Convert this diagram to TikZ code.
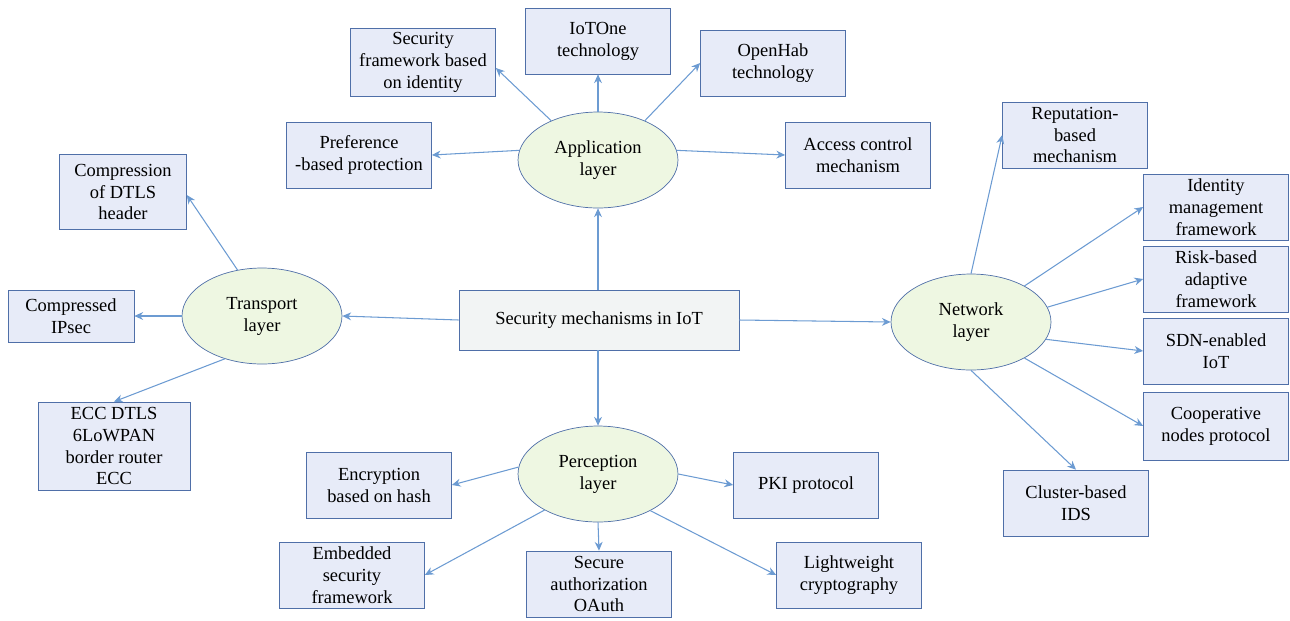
\documentclass[tikz,border=0pt]{standalone}
\usepackage{fontspec}
\setmainfont{Liberation Serif}
\usetikzlibrary{shapes.geometric,arrows.meta}
\definecolor{boxfill}{HTML}{E7EBF8}
\definecolor{boxline}{HTML}{4F6FA8}
\definecolor{layerfill}{HTML}{EEF7E2}
\definecolor{rootfill}{HTML}{F2F4F4}
\definecolor{linkblue}{HTML}{6C9BD2}
\tikzstyle{mech}=[rectangle,draw=boxline,fill=boxfill,minimum width=2.9cm,minimum height=1.32cm,inner sep=1pt,align=center,font=\fontsize{10.5}{12.5}\selectfont]
\tikzstyle{layer}=[ellipse,draw=boxline,fill=layerfill,minimum width=3.2cm,minimum height=1.92cm,inner sep=0pt,align=center,font=\fontsize{10.5}{12.5}\selectfont]
\tikzstyle{root}=[rectangle,draw=boxline,fill=rootfill,minimum width=5.6cm,minimum height=1.2cm,font=\fontsize{10.5}{12.5}\selectfont]
\tikzstyle{link}=[-{Stealth[length=5pt,width=4.5pt]},linkblue,line width=0.6pt]

\begin{document}
\begin{tikzpicture}[x=0.02cm,y=-0.02cm]
\useasboundingbox (0,0) rectangle (1290,620);
\node[root] (iot) at (599,320) {Security mechanisms in IoT};
\node[layer] (app) at (598,160) {Application\\layer};
\node[layer] (per) at (598,474) {Perception\\layer};
\node[layer] (tra) at (262,316) {Transport\\layer};
\node[layer] (net) at (971,322) {Network\\layer};
% application layer
\node[mech, minimum height=1.36cm] (secfw) at (423,62) {Security\\framework based\\on identity};
\node[mech] (iotone) at (598,41) {IoTOne\\technology};
\node[mech] (openhab) at (773,63) {OpenHab\\technology};
\node[mech] (pref) at (359,155) {Preference\\-based protection};
\node[mech] (access) at (858,155) {Access control\\mechanism};
% transport layer
\node[mech, minimum width=2.54cm, minimum height=1.5cm] (dtls) at (123,192) {Compression\\of DTLS\\header};
\node[mech, minimum width=2.52cm, minimum height=1.04cm] (ipsec) at (71,316) {Compressed\\IPsec};
\node[mech, minimum width=3.04cm, minimum height=1.76cm] (ecc) at (114,446) {ECC DTLS\\6LoWPAN\\border router\\ECC};
% network layer
\node[mech] (rep) at (1075,135) {Reputation-\\based\\mechanism};
\node[mech] (idm) at (1216,207) {Identity\\management\\framework};
\node[mech] (risk) at (1216,279) {Risk-based\\adaptive\\framework};
\node[mech] (sdn) at (1216,351) {SDN-enabled\\IoT};
\node[mech, minimum height=1.36cm] (coop) at (1216,426) {Cooperative\\nodes protocol};
\node[mech] (ids) at (1076,503) {Cluster-based\\IDS};
% perception layer
\node[mech] (enc) at (379,485) {Encryption\\based on hash};
\node[mech] (pki) at (806,485) {PKI protocol};
\node[mech] (emb) at (352,575) {Embedded\\security\\framework};
\node[mech] (oauth) at (599,584) {Secure\\authorization\\OAuth};
\node[mech] (light) at (849,575) {Lightweight\\cryptography};

\draw[link] (iot.north -| app.south) -- (app.south);
\draw[link] (iot.south -| per.north) -- (per.north);
\draw[link] (iot.west) -- (tra.east);
\draw[link] (iot.east) -- (net.west);

\draw[link] (app.140) -- ([yshift=-0.12cm]secfw.east);
\draw[link] (app.north) -- (iotone.south);
\draw[link] (app.40) -- (openhab.west);
\draw[link] (app.173) -- (pref.east);
\draw[link] (app.7) -- (access.west);

\draw[link] (tra.118) -- ([yshift=-0.06cm]dtls.east);
\draw[link] (tra.west) -- (ipsec.east);
\draw[link] (tra.229) -- (ecc.north);

\draw[link] (net.north) -- (rep.west);
\draw[link] (net.34) -- (idm.west);
\draw[link] (net.11) -- (risk.west);
\draw[link] (net.-13) -- (sdn.west);
\draw[link] (net.-34) -- (coop.west);
\draw[link] (net.south) -- (ids.north);

\draw[link] (per.175) -- (enc.east);
\draw[link] (per.east) -- (pki.west);
\draw[link] (per.214) -- (emb.east);
\draw[link] (per.south) -- (oauth.north);
\draw[link] (per.-35) -- (light.west);
\end{tikzpicture}
\end{document}
